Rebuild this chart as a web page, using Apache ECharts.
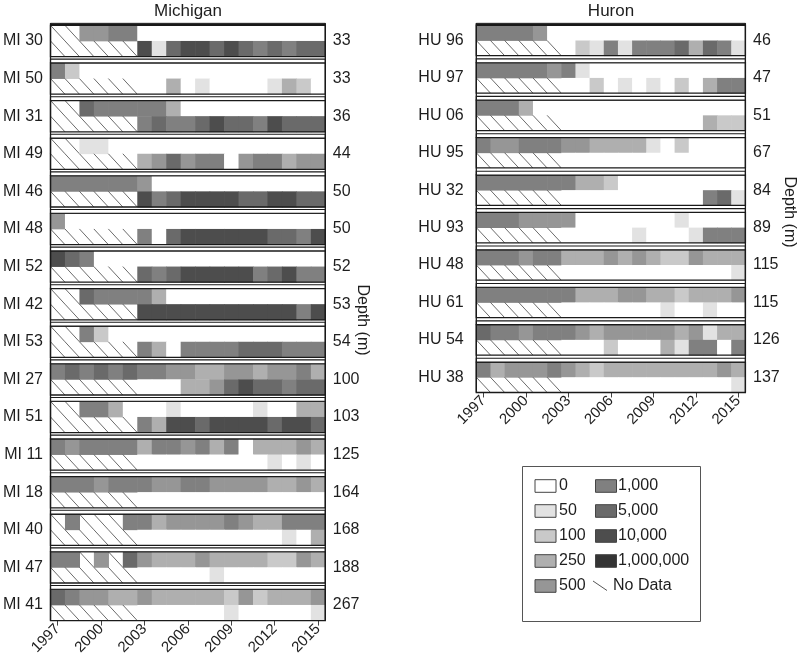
<!DOCTYPE html>
<html>
<head>
<meta charset="utf-8">
<script src="https://cdn.jsdelivr.net/npm/echarts@6/dist/echarts.min.js"></script>
<style>html,body{margin:0;padding:0;background:#fff}#c{width:800px;height:662px}</style>
</head>
<body>
<div id="c"></div>
<script>
// ---------------- data ----------------
const years = ['1997','1998','1999','2000','2001','2002','2003','2004','2005','2006','2007','2008','2009','2010','2011','2012','2013','2014','2015'];
const rowNames = ['upper', 'lower'];
// level codes: 0..8 index into levelLabels, 'x' = No Data
const levelLabels = ['0','50','100','250','500','1,000','5,000','10,000','1,000,000'];
const levelColors = ['#ffffff','#e2e2e2','#c9c9c9','#afafaf','#969696','#808080','#6a6a6a','#4d4d4d','#343434'];
const noDataLabel = 'No Data';

const michiganStations = ['MI 30','MI 50','MI 31','MI 49','MI 46','MI 48','MI 52','MI 42','MI 53','MI 27','MI 51','MI 11','MI 18','MI 40','MI 47','MI 41'];
const michiganDepths = ['33','33','36','44','50','50','52','53','54','100','103','125','164','168','188','267'];
const michiganUpper = [
  'xx44550000000000000',
  '5200000000000000000',
  'xx65555530000000000',
  'xx11000000000000000',
  '5555554000000000000',
  '4000000000000000000',
  '7650000000000000000',
  'xx65555300000000000',
  'xx52000000000000000',
  '5656565544334434453',
  'xx55300010000010033',
  '5455553554535033343',
  '5554555445544443343',
  'x5xxx55344445433555',
  '55x4x64333433332243',
  '6544334333332423334'
];
const michiganLower = [
  'xxxxxx7167767656566',
  'xxxxxx0030100001320',
  'xxxxxx5655676657666',
  'xxxxxx3464550455344',
  'xxxxxx7567777667766',
  'xxxxxx5067777776657',
  'xxxxxx6567777756755',
  'xxxxxx7777777777757',
  'xxxxxx5305555666555',
  'xxxxxx0003346766566',
  'xxxxxx5377677776776',
  'xxxxxx0000000001010',
  'xxxxxx0000000000000',
  'xxxxxx0000000000103',
  'xxxxxx0000010000000',
  'xxxxxx0000001000001'
];

const huronStations = ['HU 96','HU 97','HU 06','HU 95','HU 32','HU 93','HU 48','HU 61','HU 54','HU 38'];
const huronDepths = ['46','47','51','67','84','89','115','115','126','137'];
const huronUpper = [
  '5555400000000000000',
  '5555545100000000000',
  '5553000000000000000',
  '5445554433331020000',
  '5555555332000000000',
  '5554444000000010000',
  '5554553334343224333',
  '5555555333443323334',
  '6554555434444434133',
  '5344454323333333343'
];
const huronLower = [
  'xxxxxx0215155563651',
  'xxxxxx0020101020355',
  'xxxxxx0000000000322',
  'xxxxxx0000000000000',
  'xxxxxx0000000000561',
  'xxxxxx0000010001555',
  'xxxxxx0000000000001',
  'xxxxxx0000000100100',
  'xxxxxx0002000315505',
  'xxxxxx0000000000001'
];

// ---------------- layout / style ----------------
const FONT = "'Liberation Sans', Arial, Helvetica, sans-serif";
const TEXT = '#1e1e1e';
const BORDER = '#1a1a1a';

const panels = [
  {title:'Michigan', stations:michiganStations, depths:michiganDepths, upper:michiganUpper, lower:michiganLower,
   left:50.5, width:274.8, top:25.3, pitch:37.6, height:31.3, nameGap:7.5, depthGap:7.5, titleX:188, depthX:362, depthY:320},
  {title:'Huron', stations:huronStations, depths:huronDepths, upper:huronUpper, lower:huronLower,
   left:476.3, width:269.1, top:25.3, pitch:37.42, height:30.4, nameGap:12.6, depthGap:7.6, titleX:611, depthX:789, depthY:212}
];

function renderCell(params, api) {
  const xi = api.value(0), yi = api.value(1), lv = api.value(2);
  const p = api.coord([xi, yi]);
  const s = api.size([1, 1]);
  const x0 = p[0] - s[0] / 2, y0 = p[1] - s[1] / 2;
  if (lv < 0) {
    return {type:'line', shape:{x1:x0, y1:y0, x2:x0 + s[0], y2:y0 + s[1]},
            style:{stroke:'#5a5a5a', lineWidth:0.9}};
  }
  return {type:'rect', shape:{x:x0, y:y0, width:s[0] + 0.6, height:s[1] + 0.4},
          style:{fill:levelColors[lv]}};
}

const grids = [], xAxes = [], yAxes = [], series = [], graphics = [];

panels.forEach(p => {
  const n = p.stations.length;
  p.stations.forEach((st, i) => {
    const top = p.top + i * p.pitch;
    const gi = grids.length;
    const last = i === n - 1;
    grids.push({left:p.left, top:top, width:p.width, height:p.height, show:false, containLabel:false, outerBoundsMode:'none'});
    xAxes.push({type:'category', gridIndex:gi, data:years, boundaryGap:true,
      axisLine:{show:false}, splitLine:{show:false},
      axisTick:{show:last, interval:2, alignWithLabel:true, length:5, lineStyle:{color:'#444', width:1}},
      axisLabel:{show:last, interval:2, rotate:45, fontSize:15, color:TEXT, fontFamily:FONT, margin:6}});
    yAxes.push({type:'category', gridIndex:gi, data:rowNames, inverse:true, position:'left',
      axisLine:{show:false}, axisTick:{show:false}, axisLabel:{show:false}, splitLine:{show:false},
      name:st, nameLocation:'middle', nameRotate:0, nameGap:p.nameGap,
      nameTextStyle:{fontSize:16, color:TEXT, fontFamily:FONT}});
    yAxes.push({type:'category', gridIndex:gi, data:rowNames, inverse:true, position:'right',
      axisLine:{show:false}, axisTick:{show:false}, axisLabel:{show:false}, splitLine:{show:false},
      name:p.depths[i], nameLocation:'middle', nameRotate:0, nameGap:p.depthGap,
      nameTextStyle:{fontSize:16, color:TEXT, fontFamily:FONT}});
    const data = [];
    [p.upper[i], p.lower[i]].forEach((row, r) => {
      for (let c = 0; c < years.length; c++) {
        const ch = row[c];
        data.push([c, r, ch === 'x' ? -1 : Number(ch)]);
      }
    });
    series.push({type:'custom', name:st, xAxisIndex:gi, yAxisIndex:2 * gi, renderItem:renderCell, data:data, silent:true, clip:false, animation:false});
    // block border + strip
    graphics.push({type:'rect', z:100, silent:true, shape:{x:p.left, y:top, width:p.width, height:p.height},
      style:{fill:'none', stroke:BORDER, lineWidth:1.3}});
    if (i > 0) {
      graphics.push({type:'rect', z:100, silent:true, shape:{x:p.left, y:top - 3.8, width:p.width, height:3.8},
        style:{fill:'#fff', stroke:BORDER, lineWidth:1.1}});
    } else {
      graphics.push({type:'rect', z:100, silent:true, shape:{x:p.left, y:top - 2, width:p.width, height:2},
        style:{fill:BORDER, stroke:BORDER, lineWidth:0.8}});
    }
  });
  const yTop = p.top - 2, yBot = p.top + (n - 1) * p.pitch + p.height;
  graphics.push({type:'line', z:100, silent:true, shape:{x1:p.left, y1:yTop, x2:p.left, y2:yBot}, style:{stroke:BORDER, lineWidth:1.3}});
  graphics.push({type:'line', z:100, silent:true, shape:{x1:p.left + p.width, y1:yTop, x2:p.left + p.width, y2:yBot}, style:{stroke:BORDER, lineWidth:1.3}});
  graphics.push({type:'text', z:100, silent:true, x:p.titleX, y:11,
    style:{text:p.title, fontSize:17, fontFamily:FONT, fill:TEXT, align:'center', verticalAlign:'middle'}});
  graphics.push({type:'text', z:100, silent:true, x:p.depthX, y:p.depthY, rotation:-Math.PI / 2,
    style:{text:'Depth (m)', fontSize:16, fontFamily:FONT, fill:TEXT, align:'center', verticalAlign:'middle'}});
});

// legend (drawn as graphic, two columns)
const legRows = [486, 511, 536, 561, 586];
graphics.push({type:'rect', z:100, silent:true, shape:{x:522.5, y:466.5, width:178, height:155},
  style:{fill:'none', stroke:'#555', lineWidth:1}});
levelLabels.forEach((lab, k) => {
  const col = k < 5 ? 0 : 1;
  const yc = legRows[k % 5];
  const sx = col === 0 ? 535 : 595.5;
  const tx = col === 0 ? 559 : 618;
  graphics.push({type:'rect', z:100, silent:true, shape:{x:sx, y:yc - 6.3, width:21, height:12.6},
    style:{fill:levelColors[k], stroke:'#444', lineWidth:1}});
  graphics.push({type:'text', z:100, silent:true, x:tx, y:yc,
    style:{text:lab, fontSize:16, fontFamily:FONT, fill:TEXT, align:'left', verticalAlign:'middle'}});
});
graphics.push({type:'line', z:100, silent:true, shape:{x1:593, y1:581, x2:607, y2:590.5},
  style:{stroke:'#555', lineWidth:1}});
graphics.push({type:'text', z:100, silent:true, x:613, y:586,
  style:{text:noDataLabel, fontSize:16, fontFamily:FONT, fill:TEXT, align:'left', verticalAlign:'middle'}});

const chart = echarts.init(document.getElementById('c'), null, {renderer:'canvas'});
chart.setOption({
  backgroundColor:'#ffffff',
  animation:false,
  textStyle:{fontFamily:FONT},
  grid:grids,
  xAxis:xAxes,
  yAxis:yAxes,
  series:series,
  graphic:{elements:graphics}
});
</script>
</body>
</html>
